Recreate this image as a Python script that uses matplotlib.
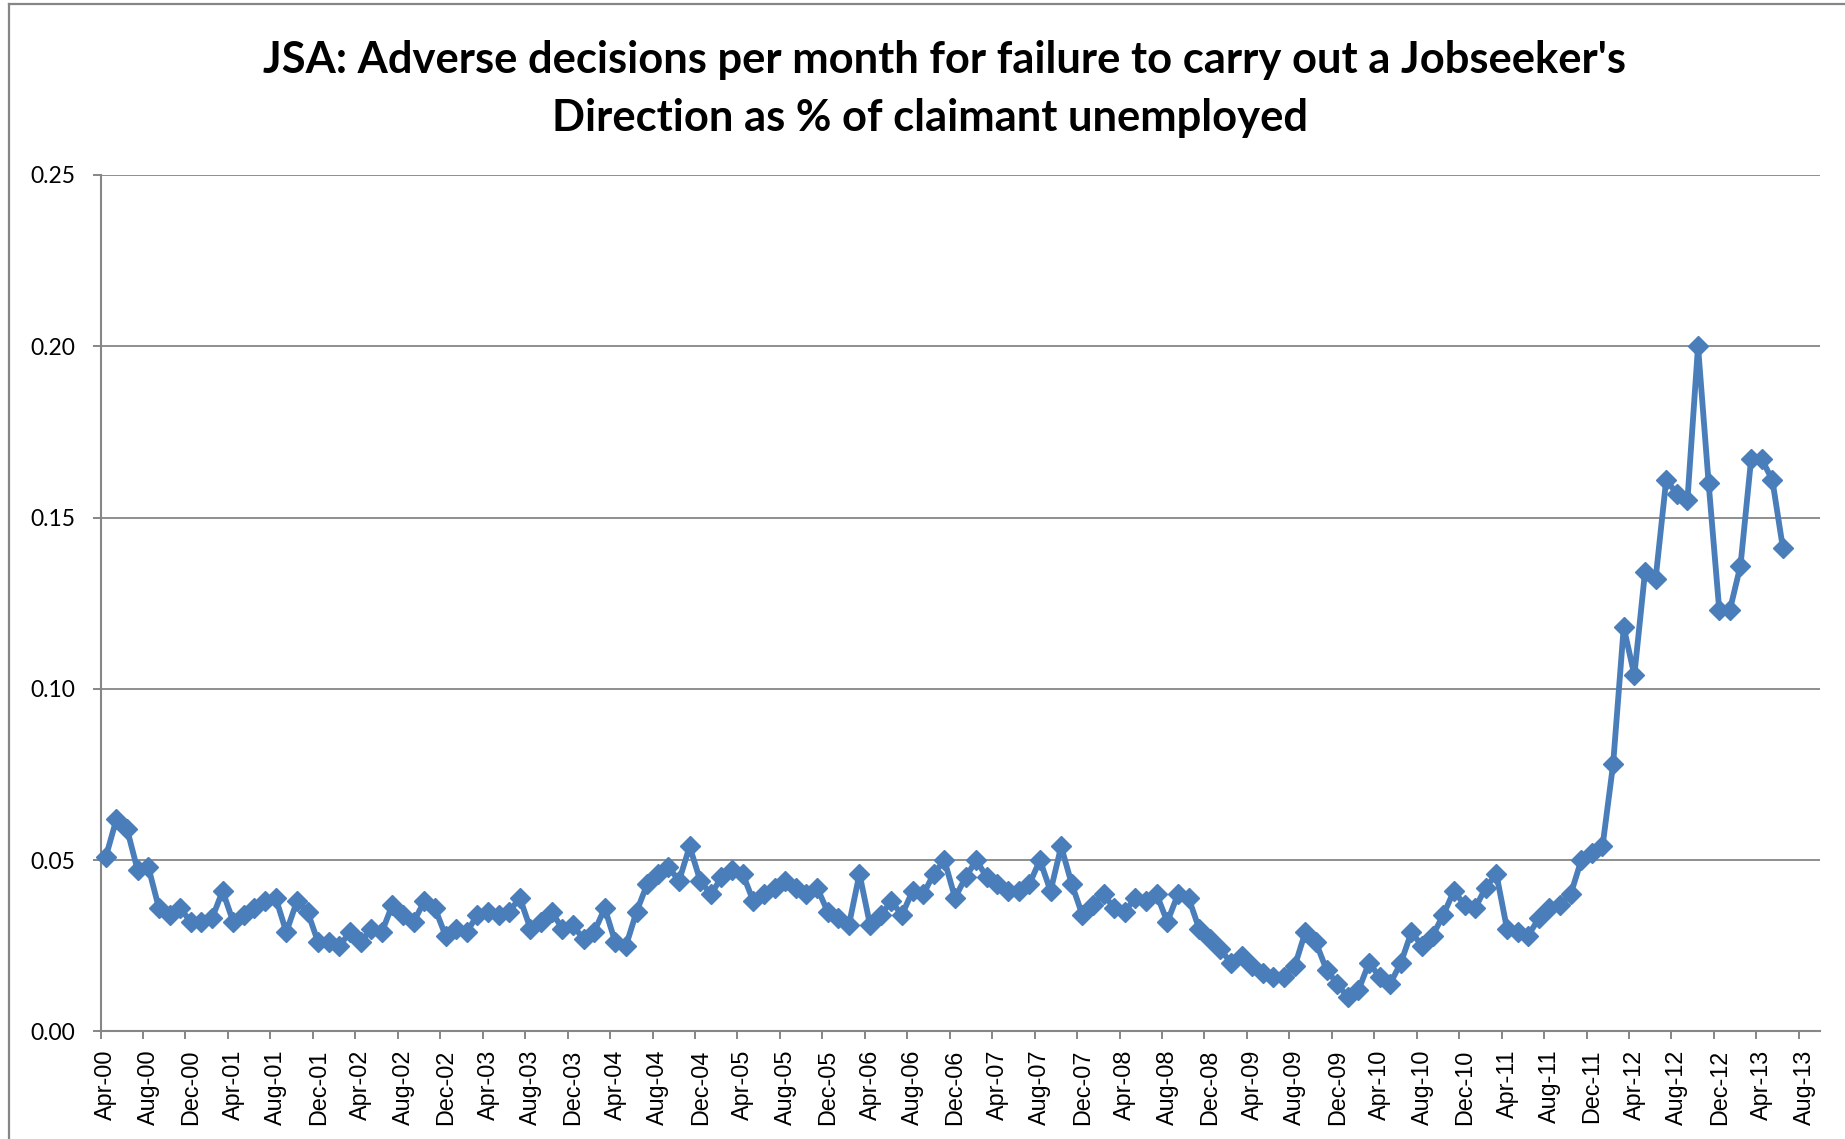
import numpy as np
import matplotlib
matplotlib.use('Agg')
import matplotlib.pyplot as plt
from matplotlib.lines import Line2D
from matplotlib.ticker import FormatStrFormatter

# --- data: monthly values, Apr-00 .. Jun-13 --- #

ratio = [
    0.051, 0.062, 0.059, 0.047, 0.048, 0.036, 0.034, 0.036, 0.032, 0.032,   # Apr-00 .. Jan-01
    0.033, 0.041, 0.032, 0.034, 0.036, 0.038, 0.039, 0.029, 0.038, 0.035,   # Feb-01 .. Nov-01
    0.026, 0.026, 0.025, 0.029, 0.026, 0.030, 0.029, 0.037, 0.034, 0.032,   # Dec-01 .. Sep-02
    0.038, 0.036, 0.028, 0.030, 0.029, 0.034, 0.035, 0.034, 0.035, 0.039,   # Oct-02 .. Jul-03
    0.030, 0.032, 0.035, 0.030, 0.031, 0.027, 0.029, 0.036, 0.026, 0.025,   # Aug-03 .. May-04
    0.035, 0.043, 0.046, 0.048, 0.044, 0.054, 0.044, 0.040, 0.045, 0.047,   # Jun-04 .. Mar-05
    0.046, 0.038, 0.040, 0.042, 0.044, 0.042, 0.040, 0.042, 0.035, 0.033,   # Apr-05 .. Jan-06
    0.031, 0.046, 0.031, 0.034, 0.038, 0.034, 0.041, 0.040, 0.046, 0.050,   # Feb-06 .. Nov-06
    0.039, 0.045, 0.050, 0.045, 0.043, 0.041, 0.041, 0.043, 0.050, 0.041,   # Dec-06 .. Sep-07
    0.054, 0.043, 0.034, 0.037, 0.040, 0.036, 0.035, 0.039, 0.038, 0.040,   # Oct-07 .. Jul-08
    0.032, 0.040, 0.039, 0.030, 0.027, 0.024, 0.020, 0.022, 0.019, 0.017,   # Aug-08 .. May-09
    0.016, 0.016, 0.019, 0.029, 0.026, 0.018, 0.014, 0.010, 0.012, 0.020,   # Jun-09 .. Mar-10
    0.016, 0.014, 0.020, 0.029, 0.025, 0.028, 0.034, 0.041, 0.037, 0.036,   # Apr-10 .. Jan-11
    0.042, 0.046, 0.030, 0.029, 0.028, 0.033, 0.036, 0.037, 0.040, 0.050,   # Feb-11 .. Nov-11
    0.052, 0.054, 0.078, 0.118, 0.104, 0.134, 0.132, 0.161, 0.157, 0.155,   # Dec-11 .. Sep-12
    0.200, 0.160, 0.123, 0.123, 0.136, 0.167, 0.167, 0.161, 0.141,          # Oct-12 .. Jun-13
]

tick_labels = [
    'Apr-00', 'Aug-00', 'Dec-00', 'Apr-01', 'Aug-01', 'Dec-01', 'Apr-02',
    'Aug-02', 'Dec-02', 'Apr-03', 'Aug-03', 'Dec-03', 'Apr-04', 'Aug-04',
    'Dec-04', 'Apr-05', 'Aug-05', 'Dec-05', 'Apr-06', 'Aug-06', 'Dec-06',
    'Apr-07', 'Aug-07', 'Dec-07', 'Apr-08', 'Aug-08', 'Dec-08', 'Apr-09',
    'Aug-09', 'Dec-09', 'Apr-10', 'Aug-10', 'Dec-10', 'Apr-11', 'Aug-11',
    'Dec-11', 'Apr-12', 'Aug-12', 'Dec-12', 'Apr-13', 'Aug-13',
]

n_categories = 162   # axis runs Apr-00 .. Sep-13
tick_step = 4

title_1 = "JSA: Adverse decisions per month for failure to carry out a Jobseeker's"
title_2 = "Direction as % of claimant unemployed"

# --- plotting --- #

blue = '#4A7EBB'
grey = '#868686'

fig = plt.figure(figsize=(18.45, 11.39), dpi=100)
ax = fig.add_axes([0.0545, 0.0944, 0.932, 0.752])

x = np.arange(len(ratio))
ax.plot(x, ratio, color=blue, lw=4.2, marker='D', ms=9.8,
        mfc=blue, mec=blue, mew=1, clip_on=False, zorder=3)

# labels sit on the month, tick marks on the month boundaries
n_ticks = len(tick_labels)
ax.set_xticks(np.arange(n_ticks) * tick_step)
ax.set_xticklabels(tick_labels, rotation=90, fontfamily='Liberation Sans',
                   fontsize=16.8)
ax.set_xticks(np.arange(n_ticks) * tick_step - 0.5, minor=True)
ax.tick_params(axis='x', which='major', length=0, pad=13)
ax.tick_params(axis='x', which='minor', length=5.8, width=1.4, color=grey)

ax.set_yticks(np.arange(0, 0.2501, 0.05))
ax.yaxis.set_major_formatter(FormatStrFormatter('%.2f'))
ax.tick_params(axis='y', length=5.8, width=1.4, color=grey, pad=12.5)
for label in ax.get_yticklabels():
    label.set_fontfamily('Lato')
    label.set_fontsize(16.5)

ax.set_xlim(-0.5, n_categories - 0.5)
ax.set_ylim(0, 0.25)

ax.yaxis.grid(True, color=grey, lw=1.3)
ax.set_axisbelow(True)

for side in ['top', 'right']:
    ax.spines[side].set_visible(False)
for side in ['left', 'bottom']:
    ax.spines[side].set_color(grey)
    ax.spines[side].set_linewidth(1.5)

fig.text(0.512, 0.9359, title_1, ha='center', va='baseline',
         fontfamily='Lato', fontweight='bold', fontsize=31.3)
fig.text(0.504, 0.8853, title_2, ha='center', va='baseline',
         fontfamily='Lato', fontweight='bold', fontsize=31.3)

# chart area border (top and left visible)
fx = 9 / 1845
fy = 1 - 4 / 1139
fig.add_artist(Line2D([fx, 1], [fy, fy], color=grey, lw=1.6, transform=fig.transFigure))
fig.add_artist(Line2D([fx, fx], [fy, 0], color=grey, lw=1.6, transform=fig.transFigure))

plt.savefig('out.png', dpi=100)
